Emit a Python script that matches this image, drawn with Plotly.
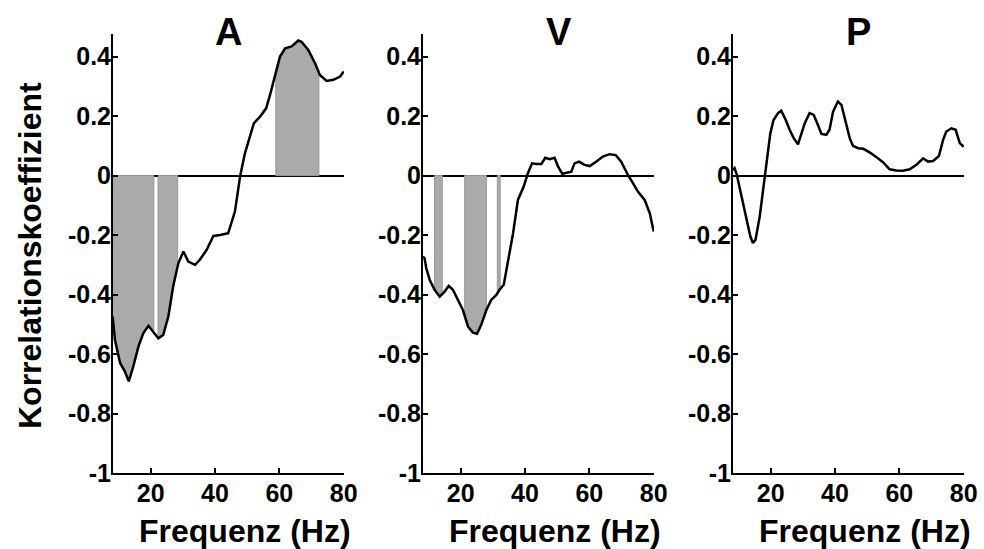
import numpy as np
import plotly.graph_objects as go

# ---------------- data ----------------
a_freq = [8.2, 8.9, 10.5, 12.0, 13.2, 14.6, 16.2, 17.7, 19.3, 20.8, 22.4, 23.9, 25.5, 27.0, 28.6,
          30.2, 31.7, 33.8, 35.3, 37.4, 39.5, 41.6, 44.1, 46.2, 47.8, 49.3, 50.9, 52.1, 54.0, 55.9,
          57.1, 58.7, 60.2, 61.8, 63.8, 65.9, 66.9, 69.0, 71.1, 72.6, 74.7, 76.8, 78.9, 80.0]
a_corr = [-0.474, -0.552, -0.63, -0.659, -0.692, -0.642, -0.575, -0.53, -0.505, -0.524, -0.547,
          -0.536, -0.474, -0.373, -0.295, -0.255, -0.289, -0.30, -0.283, -0.25, -0.203, -0.20,
          -0.194, -0.121, -0.003, 0.075, 0.137, 0.176, 0.198, 0.226, 0.271, 0.333, 0.40, 0.428,
          0.434, 0.454, 0.45, 0.422, 0.378, 0.338, 0.318, 0.322, 0.333, 0.35]

v_freq = [8.3, 8.8, 9.3, 10.4, 11.9, 13.5, 15.0, 16.3, 17.6, 19.2, 20.7, 22.3, 23.8, 25.1, 26.4,
          28.0, 29.5, 31.1, 32.1, 33.4, 34.7, 36.3, 37.8, 39.6, 40.9, 42.2, 43.5, 45.1, 46.3, 47.7,
          49.2, 50.3, 51.6, 52.8, 54.4, 55.4, 56.8, 58.5, 60.1, 62.2, 64.2, 66.3, 68.2, 69.9, 72.0,
          73.6, 75.1, 77.2, 78.8, 80.0]
v_corr = [-0.272, -0.278, -0.311, -0.351, -0.384, -0.407, -0.39, -0.371, -0.384, -0.418, -0.452,
          -0.508, -0.528, -0.532, -0.502, -0.452, -0.418, -0.401, -0.384, -0.367, -0.295, -0.194,
          -0.082, -0.037, 0.008, 0.041, 0.039, 0.039, 0.06, 0.055, 0.06, 0.03, 0.006, 0.008, 0.013,
          0.041, 0.047, 0.036, 0.032, 0.047, 0.064, 0.072, 0.069, 0.047, 0.002, -0.026, -0.054,
          -0.082, -0.127, -0.188]

p_freq = [8.3, 8.8, 9.5, 10.9, 12.4, 13.7, 14.5, 15.3, 16.6, 17.8, 18.9, 19.9, 20.9, 22.3, 23.3,
          24.7, 25.9, 27.2, 28.5, 29.5, 30.6, 32.1, 33.4, 34.7, 35.8, 37.3, 38.3, 39.4, 40.9, 42.0,
          43.2, 44.6, 45.6, 47.2, 48.8, 50.8, 52.9, 55.0, 57.0, 59.1, 61.1, 63.2, 65.3, 67.4, 68.9,
          70.5, 72.3, 73.6, 74.6, 76.2, 77.5, 78.8, 80.0]
p_corr = [0.019, 0.025, 0.002, -0.071, -0.149, -0.205, -0.227, -0.216, -0.138, -0.037, 0.053,
          0.142, 0.187, 0.21, 0.218, 0.187, 0.154, 0.125, 0.105, 0.137, 0.176, 0.21, 0.204, 0.17,
          0.14, 0.137, 0.154, 0.215, 0.249, 0.238, 0.182, 0.125, 0.10, 0.092, 0.09, 0.078, 0.062,
          0.044, 0.021, 0.017, 0.016, 0.021, 0.036, 0.058, 0.047, 0.049, 0.066, 0.12, 0.148, 0.159,
          0.154, 0.109, 0.097]

# significant frequency bands (shaded)
a_bands = [[8.2, 21.0], [22.3, 28.4], [58.9, 72.3]]
v_bands = [[11.9, 14.3], [21.25, 28.0], [31.4, 32.3]]
p_bands = []

panel_titles = ["A", "V", "P"]
x_ticks = [20, 40, 60, 80]
x_ticktext = ["20", "40", "60", "80"]
y_ticks = [-1, -0.8, -0.6, -0.4, -0.2, 0, 0.2, 0.4]
y_ticktext = ["-1", "-0.8", "-0.6", "-0.4", "-0.2", "0", "0.2", "0.4"]
x_label = "Frequenz (Hz)"
y_label = "Korrelationskoeffizient"

# ---------------- figure ----------------
W, H = 984, 549
FONT = "Liberation Sans, Arial, sans-serif"
x_px = [[113, 344], [423, 654], [733, 964]]
x_domains = [[a / W, b / W] for a, b in x_px]
y_domain = [1 - 473 / H, 1 - 34 / H]
title_x = [228.5, 558.5, 858.5]

fig = go.Figure()
panels = [(a_freq, a_corr, a_bands), (v_freq, v_corr, v_bands), (p_freq, p_corr, p_bands)]

for i, (fr, co, bands) in enumerate(panels):
    xa = "x" if i == 0 else f"x{i + 1}"
    ya = "y" if i == 0 else f"y{i + 1}"
    fr_arr = np.array(fr)
    co_arr = np.array(co)
    for b0, b1 in bands:
        inside = (fr_arr > b0) & (fr_arr < b1)
        xs = [b0] + list(fr_arr[inside]) + [b1]
        ys = [float(np.interp(b0, fr_arr, co_arr))] + list(co_arr[inside]) + [float(np.interp(b1, fr_arr, co_arr))]
        poly_x = xs + [b1, b0, b0]
        poly_y = ys + [0, 0, ys[0]]
        fig.add_trace(go.Scatter(x=poly_x, y=poly_y, mode="lines", fill="toself",
                                 fillcolor="#aaaaaa", line=dict(color="#999999", width=1),
                                 xaxis=xa, yaxis=ya, showlegend=False, hoverinfo="skip"))
    fig.add_trace(go.Scatter(x=fr, y=co, mode="lines", line=dict(color="black", width=2.5),
                             xaxis=xa, yaxis=ya, showlegend=False))

axis_common = dict(showline=True, linecolor="black", linewidth=2, ticks="inside", ticklen=5,
                   tickwidth=1.5, tickcolor="black", showgrid=False, ticklabeloverflow="allow",
                   tickfont=dict(family=FONT, size=25, color="black", weight="bold"))

layout = dict(width=W, height=H, margin=dict(l=0, r=0, t=0, b=0, autoexpand=False),
              paper_bgcolor="white", plot_bgcolor="white", showlegend=False)
for i in range(3):
    xk = "xaxis" if i == 0 else f"xaxis{i + 1}"
    yk = "yaxis" if i == 0 else f"yaxis{i + 1}"
    ya = "y" if i == 0 else f"y{i + 1}"
    xa = "x" if i == 0 else f"x{i + 1}"
    layout[xk] = dict(domain=x_domains[i], range=[8.3, 80.1], tickvals=x_ticks,
                      ticktext=x_ticktext, anchor=ya, zeroline=False, ticklabelstandoff=-3,
                      **axis_common)
    layout[yk] = dict(domain=y_domain, range=[-1, 0.476], tickvals=y_ticks,
                      ticktext=y_ticktext, anchor=xa, zeroline=True, zerolinecolor="black",
                      zerolinewidth=2, ticklabelstandoff=-5, **axis_common)
fig.update_layout(**layout)

annotations = []
for i in range(3):
    annotations.append(dict(text=f"<b>{panel_titles[i]}</b>", x=title_x[i] / W, y=1 - 32.5 / H,
                            xref="paper", yref="paper", showarrow=False,
                            font=dict(family=FONT, size=38, color="black"),
                            xanchor="center", yanchor="middle"))
    cx = (x_px[i][0] + x_px[i][1]) / 2 + 16
    annotations.append(dict(text=f"<b>{x_label}</b>", x=cx / W, y=1 - 531 / H,
                            xref="paper", yref="paper", showarrow=False,
                            font=dict(family=FONT, size=32, color="black"),
                            xanchor="center", yanchor="middle"))
annotations.append(dict(text=f"<b>{y_label}</b>", x=30 / W, y=1 - 256 / H, xref="paper",
                        yref="paper", showarrow=False, textangle=-90,
                        font=dict(family=FONT, size=32, color="black"),
                        xanchor="center", yanchor="middle"))
fig.update_layout(annotations=annotations)

# remove the browser's default 8px body margin so the 984x549 figure fills the window exactly
fig.write_html("out.html", config={"displayModeBar": False},
               post_script="document.body.style.margin='0';")
